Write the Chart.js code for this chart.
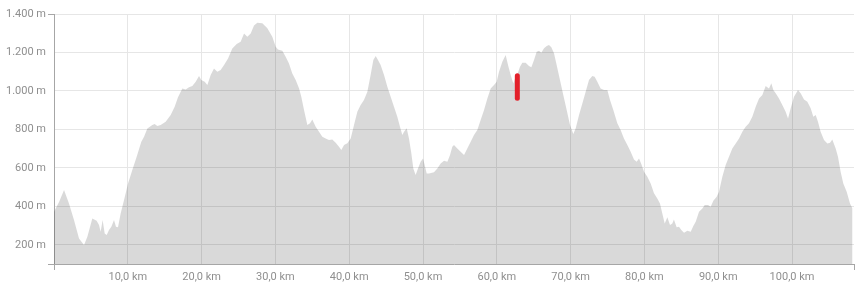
<!DOCTYPE html>
<html>
<head>
<meta charset="utf-8">
<script src="https://cdn.jsdelivr.net/npm/chart.js@4/dist/chart.umd.min.js"></script>
<style>
html,body{margin:0;padding:0;background:#fff;}
#wrap{width:860px;height:291px;}
</style>
</head>
<body>
<div id="wrap"><canvas id="c" width="860" height="291"></canvas></div>
<script>
// distance along route (km)
const km = [0.0,0.7,1.36,2.03,2.71,3.39,4.07,4.52,5.19,5.78,6.10,6.32,6.59,6.87,7.14,7.45,7.77,8.13,8.40,8.67,9.03,9.49,10.03,10.61,11.2,11.83,12.2,12.65,13.32,13.64,14.0,14.45,15.13,15.81,16.35,16.8,17.39,17.84,18.29,18.74,19.2,19.65,19.96,20.42,20.78,21.23,21.68,22.13,22.58,23.04,23.58,24.16,24.75,25.29,25.75,26.2,26.65,27.1,27.55,28.23,28.91,29.58,30.04,30.35,30.94,31.39,31.84,32.29,32.75,33.2,33.51,33.88,34.33,34.69,35.0,35.46,35.91,36.36,36.81,37.26,37.71,38.17,38.62,38.93,39.3,39.75,40.2,40.65,41.1,41.55,42.0,42.46,42.9,43.27,43.59,43.9,44.26,44.72,45.17,45.62,46.07,46.52,46.88,47.2,47.43,47.79,48.1,48.42,48.69,49.0,49.32,49.68,50.0,50.23,50.5,50.81,51.49,51.94,52.39,52.85,53.3,53.66,53.97,54.2,54.65,55.1,55.56,56.0,56.46,56.91,57.36,57.81,58.27,58.72,59.17,59.62,59.98,60.3,60.75,61.2,61.52,61.88,62.24,62.56,62.78,63.14,63.46,63.91,64.36,64.68,65.04,65.4,65.72,66.03,66.4,66.76,67.07,67.39,67.75,68.11,68.56,69.01,69.47,69.92,70.37,70.69,71.14,71.59,72.04,72.49,72.94,73.26,73.62,74.07,74.53,74.98,75.34,75.79,76.33,76.78,77.23,77.69,78.14,78.59,78.95,79.27,79.58,79.95,80.4,80.85,81.3,81.75,82.11,82.43,82.75,83.11,83.47,83.78,84.0,84.37,84.69,85.0,85.37,85.82,86.27,86.63,86.95,87.4,87.85,88.17,88.62,88.98,89.34,89.79,90.11,90.56,91.01,91.46,91.91,92.37,92.82,93.27,93.72,94.17,94.62,95.08,95.53,95.98,96.43,96.88,97.2,97.47,97.79,98.24,98.69,99.14,99.46,99.82,100.27,100.81,101.17,101.63,102.08,102.53,102.89,103.21,103.52,103.88,104.34,104.79,105.15,105.46,105.92,106.23,106.59,106.95,107.41,107.86,108.2];
// elevation (m)
const elevation = [372,424,485,415,329,233,199,242,337,325,303,268,329,259,251,277,294,329,294,291,363,433,519,589,658,736,762,805,823,828,818,823,840,875,918,967,1013,1008,1019,1026,1048,1078,1057,1048,1031,1083,1117,1100,1109,1135,1169,1221,1244,1256,1299,1282,1299,1340,1355,1352,1326,1282,1230,1216,1209,1178,1143,1091,1057,1014,970,901,823,832,852,814,788,762,753,745,748,731,710,693,719,728,753,823,892,927,953,996,1083,1161,1182,1161,1135,1083,1022,970,918,866,814,771,788,806,753,676,597,563,597,632,649,615,571,571,577,597,623,637,632,667,710,719,701,684,667,701,736,771,797,849,901,961,1013,1031,1048,1100,1152,1187,1135,1083,1039,1075,1085,1126,1147,1147,1130,1123,1161,1204,1209,1199,1222,1234,1239,1227,1196,1135,1057,979,901,823,776,806,875,935,996,1057,1078,1074,1048,1013,1005,1005,953,901,832,797,753,719,684,644,632,649,620,580,554,519,468,441,415,363,311,343,303,311,332,291,294,277,263,273,268,298,320,372,389,407,407,398,429,450,476,554,615,658,701,727,753,788,814,832,866,918,961,979,1026,1013,1040,1005,988,961,927,892,857,910,970,1005,988,956,944,910,866,875,840,788,745,727,731,748,701,658,580,519,476,415,389];
// current position marker
const markerKm = [62.78, 62.78];
const markerElev = [962, 1079];
// axis ticks
const xTicks = [0,10,20,30,40,50,60,70,80,90,100,108.4];
const yTicks = [100,200,400,600,800,1000,1200,1400];

const xMax = 108.4, yMin = 100, yMax = 1400;
const lineCol = '#a6a6a6', gridCol = '#e6e6e6', textCol = '#8f8f8f';

function fmtThousands(v){
  return String(Math.round(v)).replace(/\B(?=(\d{3})+(?!\d))/g, '.');
}

const profile = km.map((k,i)=>({x:k, y:elevation[i]}));
const marker = markerKm.map((k,i)=>({x:k, y:markerElev[i]}));

new Chart(document.getElementById('c'), {
  type: 'line',
  data: {
    datasets: [
      {
        data: marker,
        borderColor: '#e3202a',
        borderWidth: 5,
        borderCapStyle: 'round',
        pointRadius: 0,
        fill: false,
        order: 0
      },
      {
        data: profile,
        borderWidth: 0,
        borderColor: 'rgba(0,0,0,0)',
        backgroundColor: 'rgba(0,0,0,0.15)',
        pointRadius: 0,
        fill: 'start',
        tension: 0,
        order: 1
      }
    ]
  },
  options: {
    responsive: false,
    animation: false,
    devicePixelRatio: 1,
    layout: { padding: { top: 14, right: 6, bottom: 0, left: 0 } },
    plugins: { legend: { display: false }, tooltip: { enabled: false } },
    scales: {
      x: {
        type: 'linear',
        min: 0,
        max: xMax,
        afterBuildTicks: s => { s.ticks = xTicks.map(v => ({value: v})); },
        afterFit: s => { s.height = 27; },
        border: { display: true, color: lineCol, width: 1 },
        grid: {
          color: c => (c.tick && (c.tick.value === 0 || c.tick.value === xMax)) ? 'rgba(0,0,0,0)' : gridCol,
          tickColor: c => (c.tick && (c.tick.value === 0 || c.tick.value === xMax)) ? lineCol : 'rgba(0,0,0,0)',
          tickLength: 6,
          lineWidth: 1
        },
        ticks: {
          autoSkip: false,
          maxRotation: 0,
          padding: 1,
          color: textCol,
          font: { family: 'Roboto', size: 11 },
          callback: v => (v === 0 || v === xMax) ? '' : (v.toFixed(1).replace('.', ',') + ' km')
        }
      },
      y: {
        type: 'linear',
        min: yMin,
        max: yMax,
        afterBuildTicks: s => { s.ticks = yTicks.map(v => ({value: v})); },
        afterFit: s => { s.width = 54; },
        border: { display: true, color: lineCol, width: 1 },
        grid: {
          color: gridCol,
          tickColor: c => (c.tick && (c.tick.value === yMin || c.tick.value === yMax)) ? lineCol : 'rgba(0,0,0,0)',
          tickLength: 6,
          lineWidth: 1
        },
        ticks: {
          autoSkip: false,
          padding: 2,
          color: textCol,
          font: { family: 'Roboto', size: 11 },
          callback: v => v === yMin ? '' : (fmtThousands(v) + ' m')
        }
      }
    }
  }
});
</script>
</body>
</html>
